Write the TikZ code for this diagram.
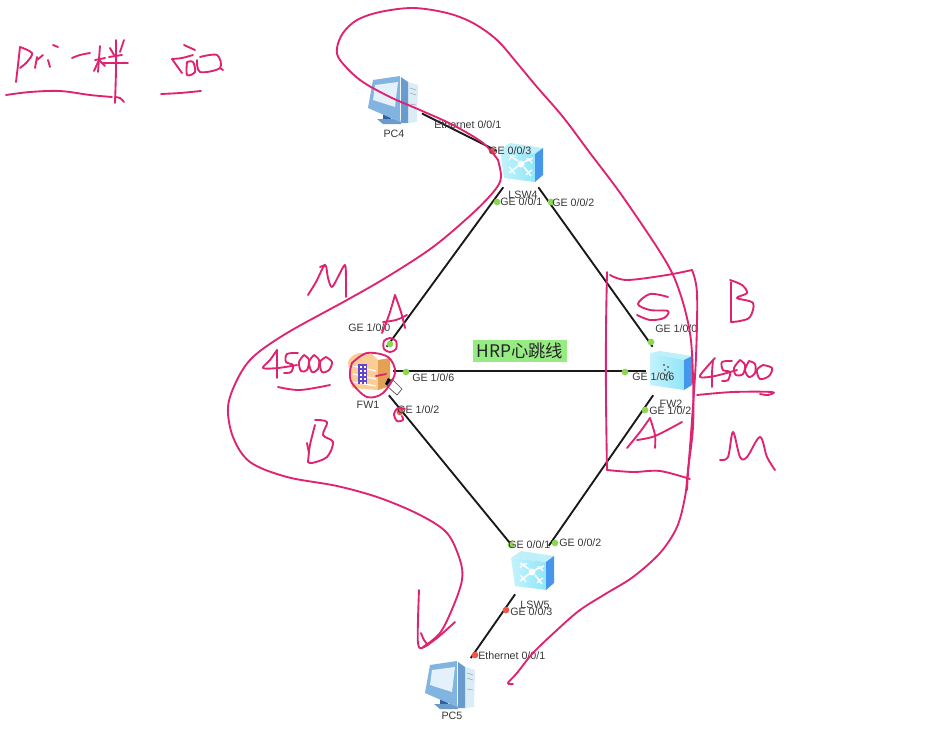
\documentclass[tikz,border=0pt]{standalone}
\usepackage{fontspec}
\setmainfont{Liberation Sans}
\newfontfamily\cjkfont{Noto Sans CJK SC}
\definecolor{inkc}{RGB}{222,36,112}
\definecolor{linkc}{RGB}{25,25,25}
\definecolor{txtc}{RGB}{55,55,55}
\definecolor{upg}{RGB}{140,215,80}
\definecolor{dnr}{RGB}{240,85,70}
\definecolor{swf}{RGB}{145,230,248}
\definecolor{swl}{RGB}{195,242,252}
\definecolor{swt}{RGB}{190,240,250}
\definecolor{sws}{RGB}{70,150,235}
\definecolor{hrpg}{RGB}{150,235,130}
\definecolor{pcframe}{RGB}{130,180,225}
\definecolor{pcscreen}{RGB}{228,240,250}
\definecolor{pcside}{RGB}{105,155,205}
\definecolor{pcfront}{RGB}{218,236,246}
\definecolor{pcdark}{RGB}{50,95,160}
\definecolor{fwl}{RGB}{250,205,150}
\definecolor{fws}{RGB}{228,160,85}
\definecolor{fwp}{RGB}{100,70,200}
\tikzset{
 x=0.75pt,y=-0.75pt,
 ink/.style={draw=inkc,line width=1.4pt,line cap=round,line join=round},
 conn/.style={draw=linkc,line width=1.4pt},
 dev/.style={inner sep=0pt,minimum width=#1,minimum height=#1},
 lab/.style={text=txtc,font=\fontsize{8}{9}\selectfont,inner sep=0pt,anchor=west},
 devlab/.style={text=txtc,font=\fontsize{8}{9}\selectfont,inner sep=0pt},
 upport/.style={circle,fill=upg,inner sep=0pt,minimum size=5pt},
 dnport/.style={circle,fill=dnr,inner sep=0pt,minimum size=5pt},
}
\newcommand{\ink}[1]{\draw[ink] plot[smooth,tension=0.55] coordinates {#1};}
\newcommand{\swicon}[2]{\begin{scope}[shift={(#1,#2)}]
 \fill[swt] (-21,-13) -- (-11,-20) -- (22,-15) -- (14,-9) -- cycle;
 \shade[left color=swl,right color=swf] (-21,-13) -- (14,-9) -- (14,19) -- (-17,15) -- cycle;
 \fill[sws] (14,-9) -- (22,-15) -- (22,12) -- (14,19) -- cycle;
 \draw[white,line width=1.2pt] (-12,-8)--(-3,-2) (12,-5)--(3,-1) (-12,10)--(-3,3) (10,13)--(3,4);
 \draw[white,line width=0.9pt] (-12,-3)--(-9,-7)--(-5,-7) (11,0)--(8,-4)--(5,-4) (-12,4)--(-9,7)--(-6,11) (11,7)--(8,9)--(5,12);
 \fill[white] (0,1) circle (3.5);
\end{scope}}
\newcommand{\pcicon}[2]{\begin{scope}[shift={(#1,#2)}]
 \fill[pcfront] (13,-18) -- (23,-15) -- (22,22) -- (13,23) -- cycle;
 \draw[black!35,line width=0.4pt] (15,-12)--(21,-10) (15,-7)--(21,-5) (15,4)--(21,5);
 \fill[pcside] (6,-23) -- (13,-18) -- (13,23) -- (6,23) -- cycle;
 \fill[pcdark] (-12,14) -- (-4,16) -- (-4,22) -- (-12,20) -- cycle;
 \fill[pcside] (-18,19) -- (5,19) -- (6,24) -- (-12,24) -- cycle;
 \fill[pcframe] (-22,-20) -- (5,-24) -- (5,22) -- (-27,8) -- cycle;
 \fill[pcscreen] (-20,-15) -- (3,-18) -- (0,7) -- (-22,0) -- cycle;
\end{scope}}
\begin{document}
\begin{tikzpicture}
\useasboundingbox (0,0) rectangle (926,732);
\fill[white] (0,0) rectangle (926,732);
% device nodes
\node[dev=40] (pc4) at (395,100) {};
\node[dev=36] (lsw4) at (521,163) {};
\node[dev=36] (fw1) at (369,371) {};
\node[dev=36] (fw2) at (670,371) {};
\node[dev=36] (lsw5) at (532,570) {};
\node[dev=40] (pc5) at (452,685) {};
% connectors
\draw[conn] (pc4) -- (lsw4);
\draw[conn] (lsw4) -- (fw1);
\draw[conn] (lsw4) -- (fw2);
\draw[conn] (fw1) -- (fw2);
\draw[conn] (fw1) -- (lsw5);
\draw[conn] (fw2) -- (lsw5);
\draw[conn] (lsw5) -- (pc5);
% icons
\pcicon{395}{100}
\pcicon{452}{685}
\swicon{521}{163}
\swicon{532}{571}
% FW1
\fill[fwl] (348,362) .. controls (352,352) and (362,352) .. (372,354) -- (378,360) -- (378,390) -- (352,388) -- cycle;
\fill[fws] (378,360) -- (390,358) -- (390,386) -- (378,390) -- cycle;
\draw[white,line width=0.9pt] (353,366)--(376,371) (353,374)--(376,379) (353,382)--(376,386);
\fill[fwp] (358,364) rectangle (367,384);
\foreach \yy in {366,370,374,378,382}{\fill[white] (360,\yy) rectangle (362,\yy+1.5);\fill[white] (364,\yy) rectangle (366,\yy+1.5);}
% FW2
\fill[swt] (650,353) -- (660,351) -- (692,356) -- (684,360) -- cycle;
\shade[left color=swl,right color=swf] (650,353) -- (684,360) -- (684,390) -- (650,385) -- cycle;
\fill[sws] (684,360) -- (692,356) -- (692,385) -- (684,390) -- cycle;
\foreach \xx/\yy in {663/364,667/366,664/369,668/371,665/374,669/377,666/379}{\fill[black!50] (\xx,\yy) rectangle +(2,1.5);}
% device labels
\node[devlab] (tpc4) at (394,134) {PC4};
\node[devlab] (tlsw4) at (523,195) {LSW4};
\node[devlab] (tfw1) at (368,405) {FW1};
\node[devlab] (tfw2) at (671,404) {FW2};
\node[devlab] (tlsw5) at (535,605) {LSW5};
\node[devlab] (tpc5) at (452,716) {PC5};
% ports
\node[dnport] (p1) at (492,151) {};
\node[upport] (p2) at (497,202) {};
\node[upport] (p3) at (551,202) {};
\node[upport] (p4) at (390,344) {};
\node[upport] (p5) at (406,372) {};
\node[dnport] (p6) at (400,412) {};
\node[upport] (p7) at (651,342) {};
\node[upport] (p8) at (625,372) {};
\node[upport] (p9) at (645,410) {};
\node[upport] (p10) at (511,545) {};
\node[upport] (p11) at (555,543) {};
\node[dnport] (p12) at (506,610) {};
\node[dnport] (p13) at (475,655) {};
% port labels
\node[lab] (l1) at (434,125) {Ethernet 0/0/1};
\node[lab] (l2) at (489,151) {GE 0/0/3};
\node[lab] (l3) at (500,202) {GE 0/0/1};
\node[lab] (l4) at (552,203) {GE 0/0/2};
\node[lab] (l5) at (348,328) {GE 1/0/0};
\node[lab] (l6) at (412,378) {GE 1/0/6};
\node[lab] (l7) at (397,410) {GE 1/0/2};
\node[lab] (l8) at (655,329) {GE 1/0/0};
\node[lab] (l9) at (632,377) {GE 1/0/6};
\node[lab] (l10) at (649,411) {GE 1/0/2};
\node[lab] (l11) at (508,545) {GE 0/0/1};
\node[lab] (l12) at (559,543) {GE 0/0/2};
\node[lab] (l13) at (510,612) {GE 0/0/3};
\node[lab] (l14) at (478,656) {Ethernet 0/0/1};
% HRP label
\node[fill=hrpg,inner sep=0pt,minimum width=71pt,minimum height=16.5pt,font=\cjkfont\fontsize{13}{14}\selectfont,text=black!85] (hrp) at (520,351) {HRP心跳线};
% mouse pointer
\fill[black] (388,378) -- (393,381) -- (390,387) -- (385,384) -- cycle;
\filldraw[fill=white,draw=black!70,line width=0.5pt] (392,379) -- (402,389) -- (397,395) -- (387,386) -- cycle;
% main ink curve
\ink{(498,160) (483,143) (453,125) (420,110) (390,97) (360,80) (340,60) (337,48) (343,33) (357,20) (380,12) (413,8) (447,13) (473,23) (497,40) (517,63) (537,87) (563,117) (590,153) (623,197) (665,260) (680,293) (690,333) (693,377) (693,427) (688,470) (685,497) (677,527) (660,553) (633,577) (607,593) (580,610) (557,630) (533,653) (517,673) (508,683) (513,684)}
\ink{(498,160) (501,177) (495,190) (473,213) (433,247) (387,277) (347,300) (287,333) (253,357) (237,380) (228,407) (233,437) (250,462) (287,477) (337,486) (380,498) (420,515) (447,533) (460,560) (462,580) (453,607) (440,633) (423,647)}
\ink{(419,590) (418,620) (418,643) (422,648) (437,638) (455,622)}
\ink{(421,633) (424,640) (428,645)}
% rectangle
\ink{(607,272) (606,330) (606,400) (607,470)}
\ink{(610,275) (627,280) (667,275) (692,270)}
\ink{(692,270) (697,293) (696,357) (692,420) (688,473) (687,490)}
\ink{(607,470) (633,472) (660,471) (690,479)}
% S and B top right
\ink{(668,297) (650,294) (638,304) (650,310) (668,311) (664,318) (650,320) (637,315)}
\ink{(731,282) (731,305) (731,322)}
\ink{(730,280) (742,285) (747,293) (737,298) (753,303) (750,317) (740,321) (731,322)}
% A in rectangle
\ink{(650,418) (640,432) (627,448)}
\ink{(650,418) (655,435) (655,448)}
\ink{(637,440) (655,436) (682,422)}
% right 45000
\ink{(715,358) (706,368) (700,377) (715,376) (737,370)}
\ink{(713,360) (712,373) (712,387)}
\ink{(732,361) (722,362) (723,370) (730,372) (728,380) (722,381)}
\ink{(740,360) (734,368) (736,375) (743,374) (745,365) (740,360)}
\ink{(749,361) (745,370) (749,377) (755,373) (755,364) (749,361)}
\ink{(763,365) (757,370) (760,379) (769,376) (772,368) (763,365)}
\ink{(697,395) (733,392) (772,392) (768,395) (760,394)}
% right M
\ink{(720,460) (728,457) (733,432) (740,457) (747,457) (760,437) (767,457) (775,470)}
% left M
\ink{(308,295) (316,282) (325,265) (328,278) (332,287) (339,275) (345,265) (346,280) (346,297)}
\ink{(320,267) (325,265)}
% left B
\ink{(315,425) (310,445) (308,462)}
\ink{(307,443) (309,453)}
\ink{(315,420) (327,422) (323,435) (333,442) (327,457) (312,463) (308,462)}
% top A
\ink{(395,295) (389,315) (382,333)}
\ink{(395,295) (401,312) (405,328)}
\ink{(383,322) (396,320) (407,315)}
% left 45000
\ink{(277,350) (270,360) (263,368) (278,368) (297,365)}
\ink{(277,350) (277,365) (277,378)}
\ink{(298,353) (287,354) (286,362) (293,365) (291,372) (284,373)}
\ink{(304,355) (299,362) (301,371) (307,370) (309,360) (304,355)}
\ink{(314,355) (309,362) (312,372) (318,369) (319,360) (314,355)}
\ink{(326,357) (320,362) (322,372) (329,370) (332,362) (326,357)}
\ink{(278,387) (300,390) (330,385)}
% circles around ports
\ink{(390,338) (384,341) (384,349) (390,352) (396,349) (396,341) (390,338) (385,340)}
\ink{(405,409) (398,408) (394,414) (397,421) (403,420) (402,416)}
% scribble on FW1
\ink{(352,363) (367,353) (388,357) (395,373) (383,393) (367,397) (352,383) (350,372) (352,363)}
\ink{(376,376) (386,374)}
% Pri strokes
\ink{(20,47) (18,65) (16,82)}
\ink{(20,47) (32,53) (27,62) (20,68)}
\ink{(37,57) (35,68)}
\ink{(37,60) (43,55)}
\ink{(48,60) (50,67)}
\ink{(53,45) (58,47)}
\ink{(72,58) (80,55) (90,53)}
\ink{(95,60) (105,58)}
\ink{(100,46) (98,72)}
\ink{(99,60) (94,71)}
\ink{(99,60) (105,66)}
\ink{(110,48) (114,55)}
\ink{(124,40) (120,52)}
\ink{(109,57) (122,55)}
\ink{(103,63) (128,63)}
\ink{(116,40) (116,70) (115,103)}
\ink{(115,97) (120,98) (124,102)}
\ink{(6,95) (30,92) (60,91) (90,95) (112,97)}
% pei strokes
\ink{(184,45) (195,50)}
\ink{(172,59) (182,58) (193,55)}
\ink{(172,59) (177,66) (182,73)}
\ink{(187,62) (187,75) (195,72) (193,62) (187,62)}
\ink{(200,57) (217,55) (220,68) (200,72) (197,60)}
\ink{(220,68) (223,70)}
\ink{(161,94) (180,93) (201,91)}
\end{tikzpicture}
\end{document}
